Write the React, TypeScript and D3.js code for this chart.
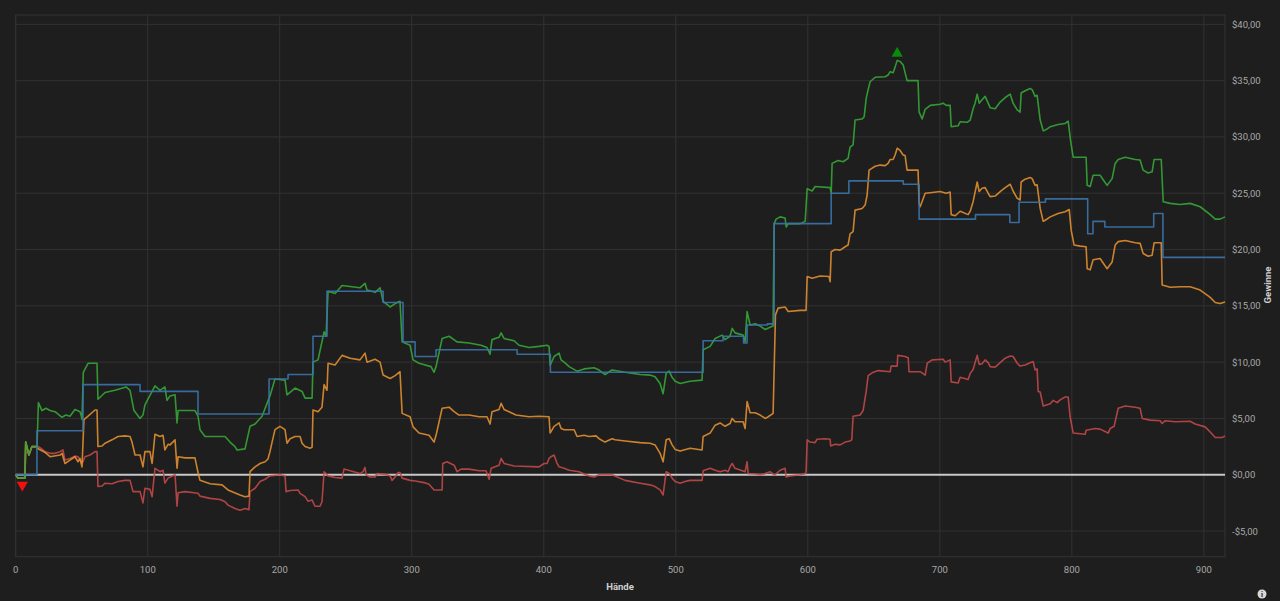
import { useEffect, useRef } from "react"
import * as d3 from "d3"

type Pt = [number, number]

// hands (x) and winnings in $ (y)
const netWon: Pt[] = [
  [0, 0], [1.7, -0.3], [7, -0.3], [7.6, 2.9], [10, 1.75], [12.3, 2.5], [15.3, 2.5], [16.1, 2.4], [17.2, 6.4],
  [19.9, 5.7], [23, 5.9], [26, 5.7], [29.8, 5.6], [35.1, 5.1], [38, 5.3], [41.1, 5.2], [44.9, 5.8], [48.7, 5.6],
  [49.5, 5.3], [50.2, 4.9], [51.2, 9.1], [54.8, 9.9], [61.6, 9.9], [62.3, 6.7], [67.7, 7.3], [75.2, 7.5], [83.6, 7.8],
  [86.6, 7.5], [89.6, 5.7], [94.2, 5.0], [96.4, 5.3], [97.9, 6.2], [105.5, 7.9], [109.3, 7.5], [113, 7.8], [114.6, 6.6],
  [116.9, 7.0], [120.7, 7.1], [122.2, 4.6], [123, 5.7], [135.8, 5.7], [138.1, 5.2], [139.6, 4.0], [143.4, 3.4],
  [158.6, 3.4], [162.3, 2.9], [166.1, 2.5], [167.7, 2.2], [173.7, 2.3], [177.5, 4.3], [181.3, 4.5], [186.6, 5.2],
  [192.6, 7.0], [196.4, 8.5], [204, 8.4], [205.5, 7.1], [211.6, 7.7], [216.9, 7.4], [219.2, 6.8], [224.5, 6.8],
  [225.2, 10.0], [229, 10.2], [233.6, 12.7], [235.1, 12.3], [236.6, 16.3], [241.9, 16.1], [247.2, 16.8], [260.8, 16.6],
  [264.6, 17.0], [266.1, 16.4], [272.2, 16.2], [276, 16.6], [278.3, 15.4], [283.6, 14.9], [287.4, 15.2], [291.1, 15.4],
  [292.7, 11.8], [298.7, 11.5], [301, 10.2], [305.5, 9.9], [314.6, 9.6], [316.9, 9.1], [318.4, 9.6], [323, 12.1],
  [328.3, 12.3], [334.3, 11.8], [343.4, 11.7], [352.5, 11.5], [357, 11.3], [359.3, 10.7], [360.8, 12.0], [366.1, 12.2],
  [367.7, 12.6], [369.9, 12.1], [377.5, 11.9], [381.3, 11.5], [388.9, 11.3], [396.4, 11.4], [402.5, 11.5], [404, 11.4],
  [404.8, 9.7], [407.8, 10.5], [411.6, 10.8], [413.1, 10.2], [415.4, 10.0], [419.2, 9.6], [425.2, 9.2], [430.5, 9.4],
  [438.1, 9.5], [441.9, 9.3], [446.4, 8.9], [451.7, 9.3], [461.6, 9.1], [473, 8.9], [480.5, 8.85], [484.3, 8.7],
  [488.1, 8.1], [490.4, 7.2], [492.7, 9.0], [495, 9.2], [497.2, 8.65], [499.5, 8.3], [503.3, 8.1], [510.8, 8.3],
  [519.9, 8.4], [520.7, 11.1], [526, 11.4], [529.8, 12.1], [535.1, 12.4], [537.3, 12.0], [541.1, 12.3], [542.7, 13.0],
  [544.9, 12.6], [551, 12.4], [552.5, 11.8], [554, 14.5], [556.3, 13.3], [560.1, 13.4], [563.9, 13.2], [567.7, 12.9],
  [571.4, 13.1], [573.7, 13.2], [574.5, 22.3], [576, 22.7], [579, 22.9], [582.8, 22.8], [583.6, 22.0], [585.1, 22.3],
  [594.2, 22.3], [598, 22.5], [599.5, 25.4], [603.3, 25.2], [605.5, 25.6], [616.9, 25.5], [617.7, 25.0], [618.4, 27.65],
  [622.9, 27.9], [626.7, 27.8], [630.5, 28.1], [632, 29.1], [634.3, 29.3], [635.8, 31.5], [641.1, 31.6], [642.7, 31.8],
  [644.2, 33.4], [645.7, 34.2], [647.2, 34.9], [651, 35.3], [658.6, 35.35], [660.8, 35.5], [662.4, 35.8], [664.6, 35.7],
  [666.1, 36.2], [667.7, 36.8], [669.9, 36.7], [672.2, 36.4], [675.2, 35.0], [683.5, 35.0], [684.3, 32.2], [686.6, 31.6],
  [688.9, 32.45], [692.7, 32.8], [700.2, 32.9], [702.5, 33.0], [704.8, 32.8], [707.8, 32.8], [708.6, 30.9], [713.9, 31.0],
  [715.4, 31.35], [720.7, 31.3], [723, 31.5], [725.2, 32.5], [726.7, 33.0], [728.3, 33.8], [729.8, 33.0], [732, 33.3],
  [734.3, 33.6], [736.6, 33.0], [738.1, 32.6], [741.9, 32.5], [745.7, 33.1], [749.5, 33.5], [753.3, 33.8], [755.5, 33.0],
  [758.6, 32.4], [760.8, 32.2], [761.6, 33.9], [764.6, 34.1], [768.4, 34.3], [769.9, 34.2], [772.2, 33.6], [773.7, 33.7],
  [776, 31.5], [778.3, 30.55], [779.8, 30.6], [783.6, 30.9], [789.6, 31.1], [794.9, 31.2], [797.2, 31.4], [799, 29.7],
  [801, 28.2], [810.8, 28.2], [811.6, 25.7], [813.9, 25.6], [816.1, 26.6], [821.4, 26.6], [823.7, 26.2], [826.7, 25.7],
  [830.5, 26.3], [832.8, 27.65], [835.1, 28.0], [840.4, 28.2], [848, 28.0], [851.7, 27.95], [854, 27.05], [857.8, 26.8],
  [860.8, 26.9], [862.3, 28.0], [867.7, 28.0], [869.2, 24.25], [874.5, 24.1], [882.1, 24.0], [889.6, 24.1],
  [897.2, 23.8], [904.8, 23.1], [908.6, 22.7], [912.3, 22.7], [916, 22.9],
]

const showdown: Pt[] = [
  [0, 0], [1.7, -0.3], [7, -0.3], [7.6, 2.9], [10, 1.75], [12.3, 2.5], [15.3, 2.5], [16.1, 2.4], [17, 2.3], [22, 2.0],
  [26, 1.6], [33.6, 1.75], [35.1, 1.9], [37.3, 1.0], [41.1, 1.3], [44.9, 1.6], [47.2, 1.15], [48.7, 1.45], [50.2, 0.7],
  [51.7, 4.9], [54.8, 5.2], [60.1, 5.75], [61.6, 5.75], [62.3, 2.5], [65.4, 2.55], [67.7, 2.8], [73, 3.1], [77.5, 3.4],
  [82.8, 3.45], [86.6, 3.4], [88.1, 2.9], [90.4, 1.75], [94.2, 1.75], [96.4, 0.7], [97.9, 2.05], [101.7, 2.05],
  [103.3, 1.0], [105.5, 3.6], [109.3, 3.4], [111.6, 3.5], [113, 2.2], [115.4, 2.7], [116.9, 2.65], [120.7, 3.1],
  [122.2, 0.57], [123, 1.6], [128.3, 1.5], [135.8, 1.5], [138.1, 0.2], [139.6, -0.5], [147.2, -0.8], [156.3, -0.9],
  [160.8, -1.35], [169.9, -1.8], [173.7, -1.95], [176.7, -1.9], [177.5, 0.27], [181.3, 0.7], [185.1, 1.0], [188.9, 1.15],
  [191.1, 1.4], [192.6, 2.05], [194.2, 2.9], [196.4, 4.0], [200.2, 4.3], [204, 4.0], [205.5, 2.8], [207.8, 3.2],
  [211.6, 3.4], [215.4, 3.4], [216.9, 2.8], [219.2, 2.5], [223, 2.35], [224.5, 2.45], [225.2, 5.75], [229, 5.6],
  [232, 6.0], [233.6, 8.0], [235.8, 7.5], [236.6, 9.9], [241.9, 9.75], [247.2, 10.6], [253.3, 10.35], [260.8, 10.2],
  [264.6, 10.8], [266.1, 10.0], [272.2, 10.25], [276, 10.0], [278.3, 8.85], [283.6, 8.55], [287.4, 8.8], [291.1, 9.15],
  [292.7, 5.45], [298.7, 5.15], [301, 4.25], [305.5, 3.7], [313.1, 3.5], [316.9, 2.9], [318.4, 3.5], [323, 5.9],
  [328.3, 6.0], [332.1, 5.6], [335.8, 5.3], [343.4, 5.3], [351, 5.15], [357, 5.15], [359.3, 4.5], [360.8, 5.6],
  [366.1, 5.8], [367.7, 6.35], [369.9, 5.8], [373.7, 5.6], [379, 5.3], [388.9, 5.15], [396.4, 5.2], [404, 5.15],
  [404.8, 3.7], [407.8, 4.3], [411.6, 4.6], [413.1, 4.1], [415.4, 4.0], [423, 4.0], [425.2, 3.4], [430.5, 3.5],
  [434.3, 3.4], [439.6, 3.45], [441.9, 3.2], [446.4, 2.9], [451.7, 3.2], [454, 3.1], [461.6, 3.0], [473, 2.85],
  [480.5, 2.8], [484.3, 2.65], [488.1, 1.9], [490.4, 1.15], [492.7, 3.1], [495, 3.2], [497.2, 2.65], [499.5, 2.25],
  [503.3, 2.1], [510.8, 2.35], [519.9, 2.2], [520.7, 3.4], [526, 3.7], [529.8, 4.4], [533.6, 4.6], [537.3, 4.3],
  [541.1, 4.55], [542.7, 5.0], [544.9, 4.7], [551, 4.7], [552.5, 4.1], [554, 6.5], [556.3, 5.5], [560.1, 5.5],
  [563.9, 5.3], [567.7, 5.0], [570, 5.15], [573.7, 5.45], [575.5, 14.2], [577.5, 14.8], [582.8, 14.9], [585.1, 14.5],
  [594.2, 14.6], [598.7, 14.6], [599.5, 17.6], [603.3, 17.45], [609.3, 17.65], [616.1, 17.6], [616.9, 17.15],
  [617.7, 19.8], [620.7, 20.0], [624.5, 19.95], [628.3, 20.25], [630.5, 20.4], [632, 21.4], [634.3, 21.6], [635.8, 23.5],
  [641.1, 23.65], [643.4, 23.95], [644.9, 24.8], [646.4, 27.05], [651, 27.4], [654.8, 27.5], [658.6, 27.45],
  [660.8, 27.65], [662.4, 28.0], [664.6, 28.0], [666.1, 28.4], [667.7, 29.0], [669.9, 28.8], [672.2, 28.4],
  [673.7, 28.35], [675.2, 27.05], [683.5, 27.05], [684.3, 24.1], [685.1, 23.8], [688.9, 25.0], [692.7, 25.05],
  [700.2, 25.15], [704.8, 25.0], [707.8, 25.1], [708.6, 23.1], [711.6, 23.0], [715.4, 23.4], [721.4, 23.1], [723, 23.4],
  [725.2, 24.25], [728.3, 26.0], [729.8, 25.15], [732, 25.45], [734.3, 25.5], [736.6, 25.0], [738.1, 24.7],
  [741.9, 24.75], [745.7, 25.15], [749.5, 25.5], [753.3, 25.8], [755.5, 25.2], [758.6, 24.55], [760.8, 24.4],
  [761.6, 26.0], [764.6, 26.25], [768.4, 26.4], [769.9, 26.3], [772.2, 25.7], [773.7, 25.75], [776, 23.65],
  [778.3, 22.5], [779.8, 22.6], [783.6, 22.9], [789.6, 23.2], [794.9, 23.35], [798, 23.55], [799.5, 21.7],
  [801.7, 20.4], [806.3, 20.3], [810.8, 20.25], [811.6, 18.3], [813.9, 18.2], [816.1, 19.1], [821.4, 19.2],
  [823.7, 18.8], [826.7, 18.3], [830.5, 18.9], [832.8, 20.4], [835.1, 20.7], [840.4, 20.8], [848, 20.6], [851.7, 20.55],
  [854, 19.65], [857.8, 19.4], [860.8, 19.5], [862.3, 20.6], [867.7, 20.6], [868.4, 16.85], [874.5, 16.65],
  [882.1, 16.7], [889.6, 16.7], [897.2, 16.4], [904.8, 15.75], [908.6, 15.3], [912.3, 15.2], [916, 15.35],
]

const nonShowdown: Pt[] = [
  [0, 0], [1.7, -0.3], [7, -0.3], [7.6, 2.9], [10, 1.75], [12.3, 2.5], [15.3, 2.5], [16.1, 2.55], [18.4, 2.4],
  [22.2, 2.05], [26, 1.9], [29.8, 1.9], [33.6, 2.05], [35.8, 2.2], [37.3, 1.3], [41.1, 1.45], [44.9, 1.65], [47.2, 1.6],
  [48.7, 1.3], [50.2, 0.95], [52.5, 1.6], [56.3, 1.75], [60.1, 2.05], [61.6, 2.05], [62.3, -1.05], [65.4, -1.0],
  [67.7, -0.75], [73, -0.8], [77.5, -0.6], [82.8, -0.5], [86.6, -0.5], [88.9, -1.5], [94.2, -1.5], [96.4, -2.5],
  [97.9, -1.2], [101.7, -1.3], [103.3, -1.95], [105.5, 0.57], [109.3, 0.27], [111.6, 0.4], [113, -0.75], [115.4, -0.3],
  [120.7, 0], [122.2, -2.8], [123, -1.6], [128.3, -1.5], [138.1, -1.65], [139.6, -1.9], [147.2, -2.1], [154.8, -2.2],
  [158.6, -2.4], [160.8, -2.7], [166.1, -3.0], [169.9, -3.15], [173.7, -3.0], [176.7, -3.1], [177.5, -1.5],
  [181.3, -1.2], [185.1, -0.6], [188.9, -0.4], [192.6, -0.1], [200.2, 0], [204, -0.1], [204.8, -1.5], [207.8, -1.4],
  [213.9, -1.35], [215.4, -1.65], [219.2, -1.95], [221.4, -2.35], [224.5, -2.25], [226.7, -2.8], [230.5, -2.8],
  [232, -2.4], [233.6, 0.27], [236.6, -0.1], [241.9, -0.25], [247.2, -0.3], [248.7, 0.5], [253.3, 0.35], [260.8, 0.1],
  [263.1, 0.27], [264.6, 0.65], [265.4, 0], [268.4, -0.2], [272.2, -0.2], [273.7, 0.1], [279.8, 0.03], [283.6, -0.1],
  [285.1, -0.5], [287.4, -0.2], [289.6, 0.2], [291.1, 0.2], [292.7, -0.3], [298.7, -0.5], [302.5, -0.55],
  [309.3, -0.7], [313.1, -0.85], [316.9, -1.35], [323, -1.35], [323.5, 1.0], [326.7, 1.15], [332.1, 0.85],
  [334.3, 0.27], [337.4, 0.5], [343.4, 0.5], [351, 0.35], [356.3, 0.35], [358.6, -0.4], [360.1, 0.57], [366.1, 0.85],
  [367.7, 1.45], [369.9, 1.0], [377.5, 0.77], [396.4, 0.7], [400.2, 1.0], [402.5, 1.0], [404, 1.45], [405.5, 1.6],
  [407.8, 1.75], [410.1, 1.0], [411.6, 0.7], [415.4, 0.57], [419.2, 0.4], [426.7, 0.27], [430.5, 0.06], [434.3, -0.1],
  [438.1, -0.2], [441.9, 0], [451.7, 0], [461.6, -0.5], [473, -0.75], [480.5, -0.9], [484.3, -1.05], [488.1, -1.35],
  [490.4, -1.8], [492.7, 0.27], [495, 0.12], [497.2, -0.3], [499.5, -0.6], [503.3, -0.75], [507, -0.6], [510.8, -0.5],
  [519.9, -0.5], [520.7, 0.35], [526, 0.57], [529.8, 0.4], [533.6, 0.27], [537.3, 0.4], [539.6, 0.27], [541.1, 0.7],
  [542.7, 1.0], [544.9, 0.57], [552.5, 0.27], [554, 1.15], [554.8, 0.1], [560.1, 0.06], [563.9, 0], [567.7, 0.1],
  [571.4, 0.27], [573.7, 0.05], [575.2, 0], [579, 0.4], [582.8, 0.57], [583.6, -0.2], [586.6, -0.1], [594.2, 0],
  [598, 0.1], [598.7, 0.27], [599.5, 3.1], [601.7, 2.9], [605.5, 2.85], [607, 3.15], [613.1, 3.2], [616.9, 3.15],
  [617.3, 2.55], [620.7, 2.7], [624.5, 2.65], [628.3, 2.9], [632, 3.0], [633.3, 3.1], [634.3, 5.2], [639.6, 5.3],
  [641.9, 5.7], [644.2, 7.4], [645.7, 8.8], [648.7, 9.05], [653.3, 9.25], [662.4, 9.15], [663.1, 9.65], [667.7, 9.65],
  [668.1, 10.6], [673.7, 10.5], [676, 10.4], [676.7, 9.15], [685.1, 9.15], [688.9, 8.85], [690.4, 9.9], [694.2, 10.2],
  [702.5, 10.25], [704, 10.0], [707.8, 10.2], [708.6, 8.25], [713.9, 8.15], [715.4, 8.65], [721.4, 8.45], [723, 9.0],
  [725.2, 9.35], [728.3, 10.6], [729.8, 9.8], [732, 9.85], [734.3, 10.2], [736.6, 9.95], [738.1, 9.6], [741.9, 9.55],
  [745.7, 9.95], [749.5, 10.35], [753.3, 10.55], [755.5, 10.5], [758.6, 9.9], [760.8, 9.65], [764.6, 9.75],
  [768.4, 9.95], [770.7, 10.05], [772.2, 9.3], [773.7, 9.4], [774.5, 7.4], [776, 7.35], [778.3, 6.1], [783.6, 6.3],
  [785.8, 6.6], [788.9, 6.4], [791.1, 6.65], [794.9, 6.9], [797.2, 6.9], [798.7, 5.15], [801, 3.7], [810.1, 3.6],
  [810.8, 3.95], [817.7, 4.1], [821.4, 4.05], [827.5, 3.7], [829, 4.1], [832, 4.3], [835.1, 5.9], [840.4, 6.1],
  [848, 6.0], [851.7, 5.9], [853.3, 5.0], [859.3, 4.85], [866.9, 4.8], [868.4, 4.55], [870.7, 4.8], [878.3, 4.7],
  [889.6, 4.75], [893.4, 4.5], [901, 4.25], [904.8, 3.8], [908.6, 3.3], [913.9, 3.3], [916, 3.45],
]

// all-in EV, changes in steps
const allInEv: Pt[] = [
  [0, 0], [16.1, 3.9], [51, 8.0], [94.2, 7.4], [138.1, 5.4], [191.9, 8.5], [206.3, 8.9], [225.2, 12.3], [235.8, 16.3],
  [278.3, 15.3], [293.4, 11.8], [302.5, 10.5], [318.4, 11.1], [379.8, 10.7], [405, 9.1], [520.7, 11.9], [535.8, 12.3],
  [551.3, 11.7], [554, 13.3], [569.4, 13.4], [574.5, 22.3], [617.7, 25.0], [631.1, 26.1], [672.3, 25.8], [684.3, 22.7],
  [727, 23.1], [753, 22.4], [760, 24.2], [780, 24.5], [812, 21.4], [816, 22.5], [825, 22.0], [862, 23.2], [869, 19.3],
  [916, 19.3],
]

const xTicks = [0, 100, 200, 300, 400, 500, 600, 700, 800, 900]
const yTicks = [-5, 0, 5, 10, 15, 20, 25, 30, 35, 40]

const W = 1280
const H = 601
const plot = { left: 15.7, right: 1225, top: 15, bottom: 556.7 }
const FONT = "Roboto, 'Open Sans', sans-serif"

const fmtMoney = (v: number) => (v < 0 ? "-$" : "$") + Math.abs(v).toFixed(2).replace(".", ",")

export default function App() {
  const svgRef = useRef<SVGSVGElement>(null)

  useEffect(() => {
    if (!svgRef.current) return
    document.body.style.margin = "0"
    document.body.style.background = "#1e1e1e"

    const svg = d3.select(svgRef.current)
    svg.selectAll("*").remove()
    svg.attr("width", W).attr("height", H)

    svg.append("rect").attr("width", W).attr("height", H).attr("fill", "#1e1e1e")

    const x = d3.scaleLinear().domain([0, 916]).range([plot.left, plot.right])
    const y = d3.scaleLinear().domain([-7.28, 40.83]).range([plot.bottom, plot.top])

    const grid = svg.append("g").attr("stroke", "#323232").attr("stroke-width", 1)
    grid
      .selectAll(".vg")
      .data(xTicks)
      .enter()
      .append("line")
      .attr("x1", (d) => x(d))
      .attr("x2", (d) => x(d))
      .attr("y1", plot.top)
      .attr("y2", plot.bottom)
    grid
      .selectAll(".hg")
      .data(yTicks)
      .enter()
      .append("line")
      .attr("x1", plot.left)
      .attr("x2", plot.right)
      .attr("y1", (d) => y(d))
      .attr("y2", (d) => y(d))
    grid
      .append("rect")
      .attr("x", plot.left)
      .attr("y", plot.top)
      .attr("width", plot.right - plot.left)
      .attr("height", plot.bottom - plot.top)
      .attr("fill", "none")

    // axis labels
    svg
      .append("g")
      .selectAll("text")
      .data(xTicks)
      .enter()
      .append("text")
      .attr("x", (d) => x(d))
      .attr("y", 573)
      .attr("text-anchor", "middle")
      .attr("fill", "#a8a8a8")
      .style("font-family", FONT)
      .style("font-size", "9.5px")
      .text((d) => d)

    svg
      .append("g")
      .selectAll("text")
      .data(yTicks)
      .enter()
      .append("text")
      .attr("x", 1232)
      .attr("y", (d) => y(d) + 3.5)
      .attr("fill", "#a8a8a8")
      .style("font-family", FONT)
      .style("font-size", "9.5px")
      .text((d) => fmtMoney(d))

    svg
      .append("text")
      .attr("x", 620)
      .attr("y", 590)
      .attr("text-anchor", "middle")
      .attr("fill", "#d0d0d0")
      .style("font-family", FONT)
      .style("font-size", "9.5px")
      .style("font-weight", "bold")
      .text("Hände")

    svg
      .append("text")
      .attr("transform", `translate(1271,285) rotate(-90)`)
      .attr("text-anchor", "middle")
      .attr("fill", "#d0d0d0")
      .style("font-family", FONT)
      .style("font-size", "9.5px")
      .style("font-weight", "bold")
      .text("Gewinne")

    // zero line
    svg
      .append("line")
      .attr("x1", plot.left)
      .attr("x2", plot.right)
      .attr("y1", y(0))
      .attr("y2", y(0))
      .attr("stroke", "#c8c8c8")
      .attr("stroke-width", 2)

    const line = d3
      .line<Pt>()
      .x((d) => x(d[0]))
      .y((d) => y(d[1]))
    const stepLine = d3
      .line<Pt>()
      .x((d) => x(d[0]))
      .y((d) => y(d[1]))
      .curve(d3.curveStepAfter)

    const series: { data: Pt[]; color: string; step?: boolean }[] = [
      { data: nonShowdown, color: "#c04848" },
      { data: showdown, color: "#e08e30" },
      { data: netWon, color: "#35a535" },
      { data: allInEv, color: "#3a74aa", step: true },
    ]

    series.forEach((s) => {
      svg
        .append("path")
        .datum(s.data)
        .attr("d", (s.step ? stepLine : line) as any)
        .attr("fill", "none")
        .attr("stroke", s.color)
        .attr("stroke-width", 1.6)
        .attr("stroke-opacity", 0.9)
        .attr("stroke-linejoin", "round")
    })

    // max / min markers on net won
    const maxPt = netWon.reduce((a, b) => (b[1] > a[1] ? b : a))
    const minPt = netWon.reduce((a, b) => (b[1] < a[1] ? b : a))
    const tri = d3.symbol().type(d3.symbolTriangle).size(55)
    svg
      .append("path")
      .attr("d", tri() as string)
      .attr("transform", `translate(${x(maxPt[0])},${y(maxPt[1]) - 7})`)
      .attr("fill", "#0a8a0a")
    svg
      .append("path")
      .attr("d", tri() as string)
      .attr("transform", `translate(${x(5)},${y(minPt[1]) + 7}) rotate(180)`)
      .attr("fill", "#ee1111")

    // info icon
    const info = svg.append("g").attr("transform", "translate(1262,594)")
    info.append("circle").attr("r", 4.5).attr("fill", "#d8d8d8")
    info
      .append("text")
      .attr("y", 3)
      .attr("text-anchor", "middle")
      .attr("fill", "#1e1e1e")
      .style("font-family", FONT)
      .style("font-size", "7.5px")
      .style("font-weight", "bold")
      .text("i")
  }, [])

  return <svg ref={svgRef} style={{ position: "absolute", left: 0, top: 0, display: "block" }}></svg>
}
